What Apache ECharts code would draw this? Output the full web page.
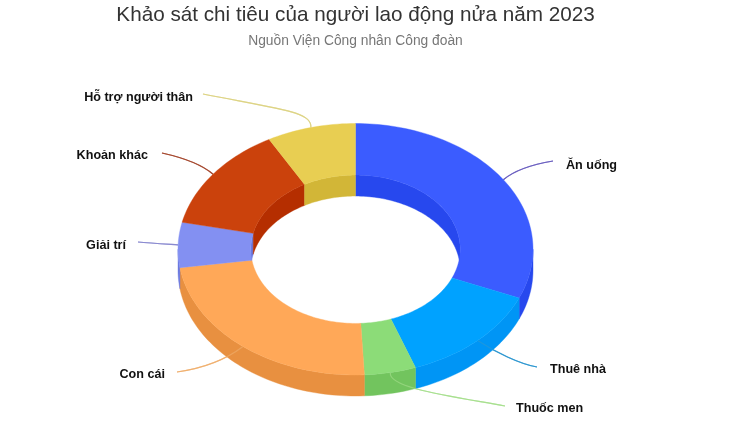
<!DOCTYPE html>
<html><head><meta charset="utf-8">
<style>html,body{margin:0;padding:0;background:#fff}#c{width:730px;height:436px}</style>
<script src="https://cdn.jsdelivr.net/npm/echarts@6/dist/echarts.min.js"></script>
</head><body><div id="c"></div>
<script>
const categories = ['Ăn uống','Thuê nhà','Thuốc men','Con cái','Giải trí','Khoản khác','Hỗ trợ người thân'];
const values = [31.4,13.2,4.7,23.5,5.8,13.5,8.1];

const topColors  = ['#3B5CFF','#00A2FF','#8CDC78','#FFA858','#8390F2','#CB420C','#E8CE52'];
const sideColors = ['#2748EE','#0095F5','#72C45E','#E89040','#6A78E0','#B52E00','#D2B637'];
const lineColors = ['#6A5FC0','#2E97D0','#A8E090','#F0B070','#8A8AD0','#A5482E','#DDD486'];
// label anchor, connector's far end, connector control points
const labelLayout = [
  {t:[566,166,'left'],  e:[553,161], c1:[535,164], c2:[515,170]},
  {t:[550,370,'left'],  e:[537,367], c1:[520,364], c2:[495,352]},
  {t:[516,409,'left'],  e:[505,406], c1:[450,396], c2:[388,388]},
  {t:[165,375,'right'], e:[177,372], c1:[205,368], c2:[228,358]},
  {t:[126,246,'right'], e:[138,242], c1:[150,243], c2:[165,244]},
  {t:[148,156,'right'], e:[162,153], c1:[180,157], c2:[200,163]},
  {t:[193,98,'right'],  e:[203,94],  c1:[285,110], c2:[312,112]}
];
const CX=355.5, CY=249.25, RX=177.5, RY=125.75, IN=0.59, DEPTH=21;
const total = values.reduce((a,b)=>a+b,0);
const rad = d=>d*Math.PI/180;
function pt(t,k,dy){return [CX+RX*k*Math.sin(t), CY-RY*k*Math.cos(t)+(dy||0)];}
function arc(a,b,k,dy){
  const n=Math.max(2,Math.ceil(Math.abs(b-a)/rad(1.5))), out=[];
  for(let i=0;i<=n;i++) out.push(pt(a+(b-a)*i/n,k,dy));
  return out;
}
function poly(points,fill,z2){
  return {type:'polygon',silent:true,z2:z2,shape:{points:points},style:{fill:fill,stroke:fill,lineWidth:0.4}};
}
function renderItem(params,api){
  const i=params.dataIndex, v=api.value(0);
  let sum=0; for(let j=0;j<i;j++) sum+=values[j];
  const a=sum/total*2*Math.PI, b=(sum+v)/total*2*Math.PI, m=(a+b)/2;
  const ch=[];
  // inner wall: only the back half of the hole faces the viewer
  [[-Math.PI/2,Math.PI/2],[1.5*Math.PI,2.5*Math.PI]].forEach(r=>{
    const s=Math.max(a,r[0]), e=Math.min(b,r[1]);
    if(e>s) ch.push(poly(arc(s,e,IN,0).concat(arc(e,s,IN,DEPTH)),sideColors[i],1));
  });
  // outer wall: front half
  const s=Math.max(a,Math.PI/2), e=Math.min(b,1.5*Math.PI);
  if(e>s) ch.push(poly(arc(s,e,1,0).concat(arc(e,s,1,DEPTH)),sideColors[i],3));
  // top face
  ch.push(poly(arc(a,b,1,0).concat(arc(b,a,IN,0)),topColors[i],5));
  // connector: passes under the outer wall, with a faint trace showing through it
  const L=labelLayout[i], anchor=pt(m,1,0);
  const shape={x1:L.e[0],y1:L.e[1],cpx1:L.c1[0],cpy1:L.c1[1],cpx2:L.c2[0],cpy2:L.c2[1],x2:anchor[0],y2:anchor[1]};
  ch.push({type:'bezierCurve',silent:true,z2:2,shape:shape,style:{fill:null,stroke:lineColors[i],lineWidth:1.2}});
  ch.push({type:'bezierCurve',silent:true,z2:4,shape:shape,style:{fill:null,stroke:lineColors[i],lineWidth:1.2,opacity:0.6}});
  ch.push({type:'text',silent:true,z2:6,
    style:{text:categories[i],x:L.t[0],y:L.t[1],align:L.t[2],verticalAlign:'middle',
      fill:'#111',font:'bold 12.6px "Liberation Sans", Arial, sans-serif'}});
  return {type:'group',children:ch};
}
const chart=echarts.init(document.getElementById('c'),null,{renderer:'canvas'});
chart.setOption({
  animation:false,
  backgroundColor:'#fff',
  title:{
    text:'Khảo sát chi tiêu của người lao động nửa năm 2023',
    subtext:'Nguồn Viện Công nhân Công đoàn',
    left:350.5, top:0, textAlign:'center', itemGap:8,
    textStyle:{fontFamily:'"Liberation Sans", Arial, sans-serif',fontSize:20.7,fontWeight:'normal',color:'#333'},
    subtextStyle:{fontFamily:'"Liberation Sans", Arial, sans-serif',fontSize:13.8,color:'#777'}
  },
  series:[{
    type:'custom',coordinateSystem:'none',renderItem:renderItem,
    data:categories.map((n,i)=>({name:n,value:[values[i]]}))
  }]
});
</script></body></html>
